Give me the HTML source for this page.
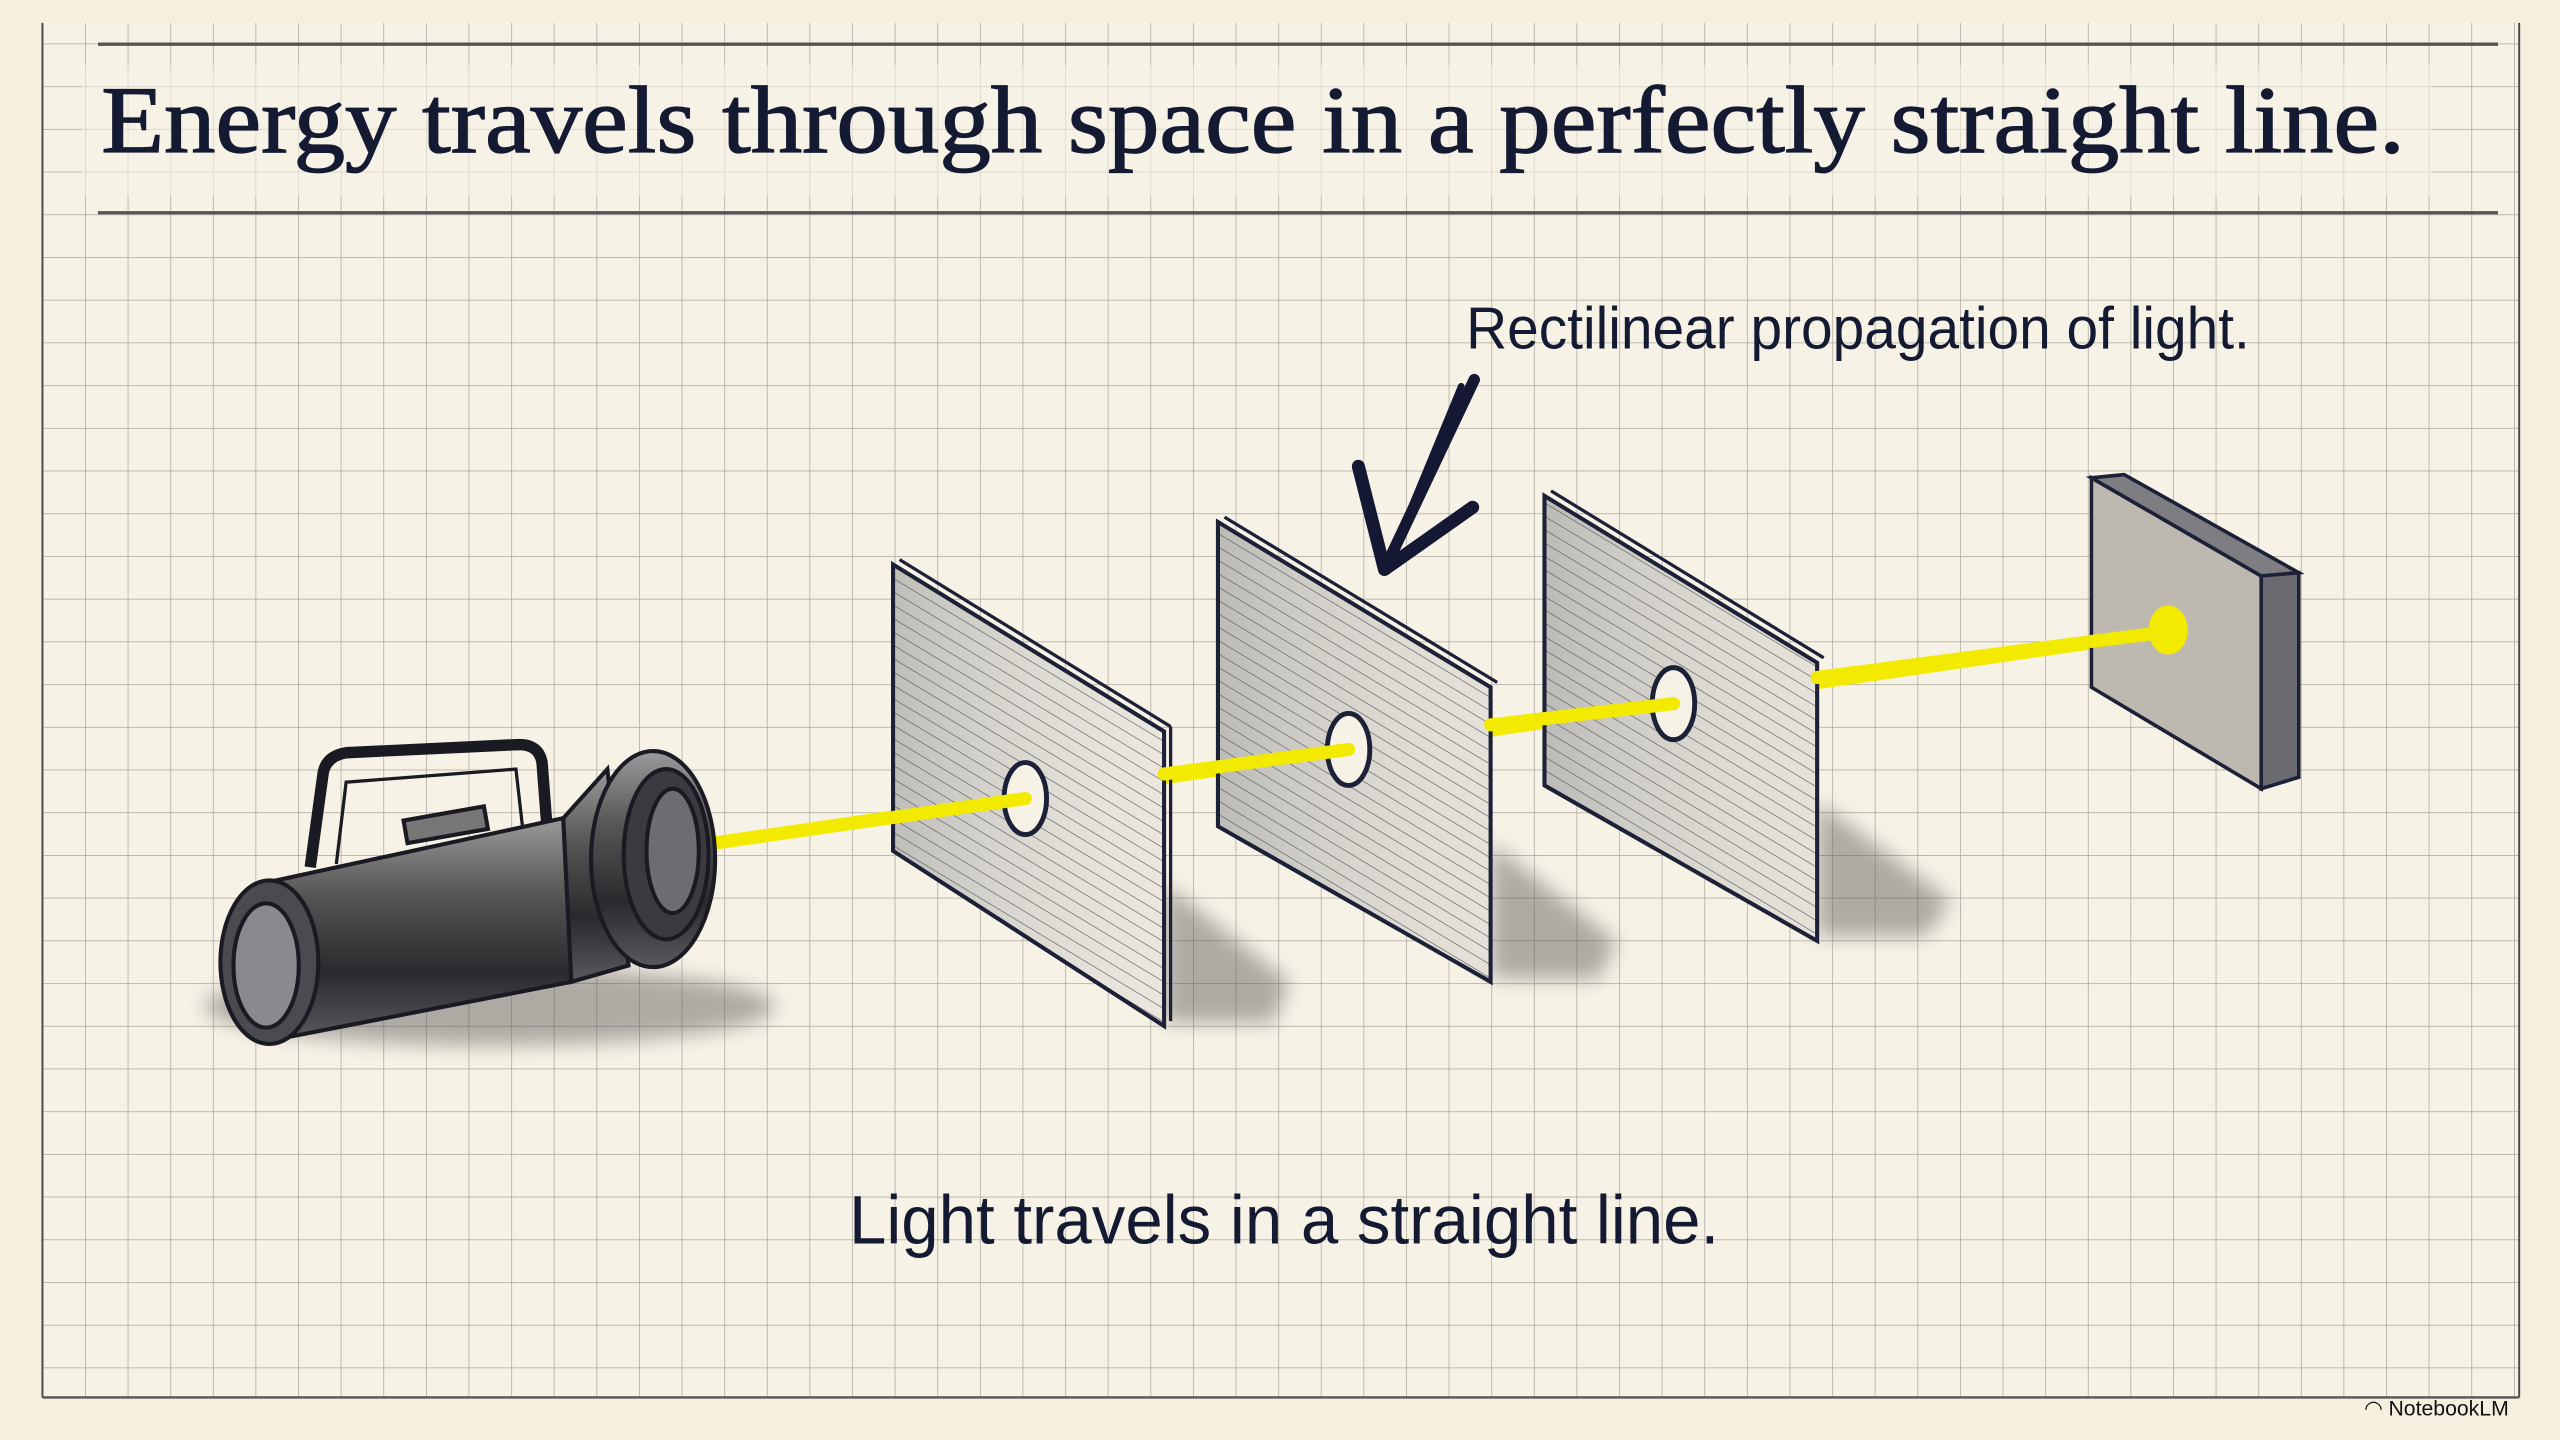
<!DOCTYPE html>
<html><head><meta charset="utf-8"><style>
html,body{margin:0;padding:0;background:#f7f1e3;}
svg{display:block}
</style></head><body>
<svg width="2560" height="1440" viewBox="0 0 1568 880" preserveAspectRatio="none" xmlns="http://www.w3.org/2000/svg">
<defs>
<pattern id="grid" x="26" y="0.5" width="26.1" height="26.1" patternUnits="userSpaceOnUse">
<path d="M0 0V26.1M0 0H26.1" stroke="#a9a69e" stroke-width="0.9" fill="none"/>
</pattern>
<pattern id="hatch" width="7" height="7" patternUnits="userSpaceOnUse" patternTransform="rotate(31)">
<line x1="0" y1="0" x2="7" y2="0" stroke="#4a4d58" stroke-width="0.7"/>
</pattern>
<filter id="blur"><feGaussianBlur stdDeviation="6"/></filter>
<linearGradient id="body" x1="0" y1="0" x2="0" y2="1">
<stop offset="0" stop-color="#9a9a9c"/><stop offset="0.35" stop-color="#555"/><stop offset="0.7" stop-color="#2a2a2e"/><stop offset="1" stop-color="#5a5a5e"/>
</linearGradient>
<linearGradient id="pshade" x1="0" y1="0" x2="1" y2="0">
<stop offset="0" stop-color="#9a9a9a" stop-opacity="0.55"/><stop offset="0.6" stop-color="#bbb" stop-opacity="0.25"/><stop offset="1" stop-color="#ddd" stop-opacity="0.1"/>
</linearGradient>
</defs>
<rect x="0" y="0" width="1568" height="880" fill="#f6efdf"/>
<rect x="26" y="14" width="1517" height="840" fill="#f7f2e6"/>
<rect x="26" y="14" width="1517" height="840" fill="url(#grid)"/>
<line x1="26" y1="14" x2="26" y2="854" stroke="#4a4a4a" stroke-width="1.2"/>
<line x1="1543" y1="14" x2="1543" y2="854" stroke="#4a4a4a" stroke-width="1.2"/>
<line x1="26" y1="854" x2="1543" y2="854" stroke="#555" stroke-width="1.5"/>
<line x1="60" y1="27" x2="1530" y2="27" stroke="#555" stroke-width="2"/>
<line x1="60" y1="130" x2="1530" y2="130" stroke="#555" stroke-width="2"/>
<rect x="50" y="40" width="1440" height="80" fill="#f7f2e6" opacity="0.6"/>
<text x="62" y="93" font-family="Liberation Serif, serif" font-size="58" fill="#151a33" stroke="#151a33" stroke-width="0.8" textLength="1411" lengthAdjust="spacingAndGlyphs">Energy travels through space in a perfectly straight line.</text>

<g filter="url(#blur)" fill="#555" opacity="0.45">
<ellipse cx="300" cy="615" rx="175" ry="24"/>
<polygon points="713,540 790,600 780,625 713,625"/>
<polygon points="913,515 990,575 980,598 913,598"/>
<polygon points="1113,490 1195,550 1180,572 1113,572"/>
</g>

<line x1="432" y1="516" x2="1328" y2="386" stroke="#f2ea00" stroke-width="8" stroke-linecap="round"/>

<g stroke="#1d2138" fill="none">
<polygon points="547,345 713,447 713,627 547,520" fill="#ece8de"/>
<polygon points="547,345 713,447 713,627 547,520" fill="url(#pshade)"/>
<polygon points="547,345 713,447 713,627 547,520" fill="url(#hatch)"/>
<polygon points="547,345 713,447 713,627 547,520" stroke-width="2.5"/>
<line x1="551" y1="342" x2="717" y2="444" stroke-width="2"/>
<line x1="717" y1="444" x2="717" y2="624" stroke-width="2"/>
<ellipse cx="628" cy="488" rx="13" ry="22" stroke-width="3" fill="#f7f2e6"/>
</g>
<line x1="432" y1="516" x2="628" y2="488" stroke="#f2ea00" stroke-width="8" stroke-linecap="round"/>
<g stroke="#1d2138" fill="none">
<polygon points="746,319 913,420 913,600 746,505" fill="#e6e2d8"/>
<polygon points="746,319 913,420 913,600 746,505" fill="url(#pshade)"/>
<polygon points="746,319 913,420 913,600 746,505" fill="url(#hatch)"/>
<polygon points="746,319 913,420 913,600 746,505" stroke-width="2.5"/>
<line x1="750" y1="316" x2="917" y2="417" stroke-width="2"/>
<ellipse cx="826" cy="458" rx="13" ry="22" stroke-width="3" fill="#f7f2e6"/>
</g>
<line x1="713" y1="473" x2="826" y2="458" stroke="#f2ea00" stroke-width="8" stroke-linecap="round"/>
<g stroke="#1d2138" fill="none">
<polygon points="946,303 1113,405 1113,575 946,480" fill="#e6e2d8"/>
<polygon points="946,303 1113,405 1113,575 946,480" fill="url(#pshade)"/>
<polygon points="946,303 1113,405 1113,575 946,480" fill="url(#hatch)"/>
<polygon points="946,303 1113,405 1113,575 946,480" stroke-width="2.5"/>
<line x1="950" y1="300" x2="1117" y2="402" stroke-width="2"/>
<ellipse cx="1025" cy="430" rx="13" ry="22" stroke-width="3" fill="#f7f2e6"/>
</g>
<line x1="913" y1="443" x2="1025" y2="430" stroke="#f2ea00" stroke-width="8" stroke-linecap="round"/>
<line x1="1113" y1="414" x2="1328" y2="386" stroke="#f2ea00" stroke-width="8" stroke-linecap="round"/>
<g stroke="#1d2138" stroke-width="2.2">
<polygon points="1281,292 1385,352 1385,482 1281,420" fill="#bdb9b1"/>
<polygon points="1281,292 1301,290 1408,350 1385,352" fill="#7d7d82"/>
<polygon points="1385,352 1408,350 1408,475 1385,482" fill="#6a6a70"/>
</g>
<line x1="1281" y1="392" x2="1328" y2="386" stroke="#f2ea00" stroke-width="8" stroke-linecap="round"/>
<ellipse cx="1328" cy="385" rx="12" ry="15" fill="#f2ea00"/>

<g stroke="#141833" stroke-linecap="round" stroke-linejoin="round" fill="none">
<line x1="903" y1="232" x2="848" y2="348" stroke-width="7"/>
<line x1="895" y1="236" x2="852" y2="340" stroke-width="4"/>
<polyline points="832,285 848,348 902,310" stroke-width="8"/>
</g>
<text x="898" y="213" font-family="Liberation Sans, sans-serif" font-size="36" fill="#151a33" textLength="480" lengthAdjust="spacingAndGlyphs">Rectilinear propagation of light.</text>

<g stroke="#1a1a22" stroke-width="2.5">
<path d="M190,530 L198,472 Q200,462 212,460 L318,455 Q330,455 332,466 L335,505" fill="none" stroke-width="7"/>
<path d="M206,528 L212,478 L316,470 L320,505" fill="none" stroke-width="2"/>
<polygon points="160,540 345,500 350,600 170,635" fill="url(#body)"/>
<rect x="248" y="497" width="50" height="14" fill="#777" transform="rotate(-10 273 504)"/>
<polygon points="345,500 372,470 385,590 350,600" fill="url(#body)"/>
<ellipse cx="400" cy="525" rx="38" ry="66" fill="url(#body)"/>
<ellipse cx="408" cy="522" rx="26" ry="52" fill="#3a3a40"/>
<ellipse cx="412" cy="520" rx="16" ry="38" fill="#6c6c72"/>
<ellipse cx="165" cy="588" rx="30" ry="50" fill="#4a4a50"/>
<ellipse cx="163" cy="590" rx="20" ry="38" fill="#8a8a8e"/>
</g>
<text x="520" y="760" font-family="Liberation Sans, sans-serif" font-size="42" fill="#151a33" textLength="533" lengthAdjust="spacingAndGlyphs">Light travels in a straight line.</text>
<text x="1448" y="865" font-family="Liberation Sans, sans-serif" font-size="13" fill="#111">◠ NotebookLM</text>
</svg>
</body></html>
